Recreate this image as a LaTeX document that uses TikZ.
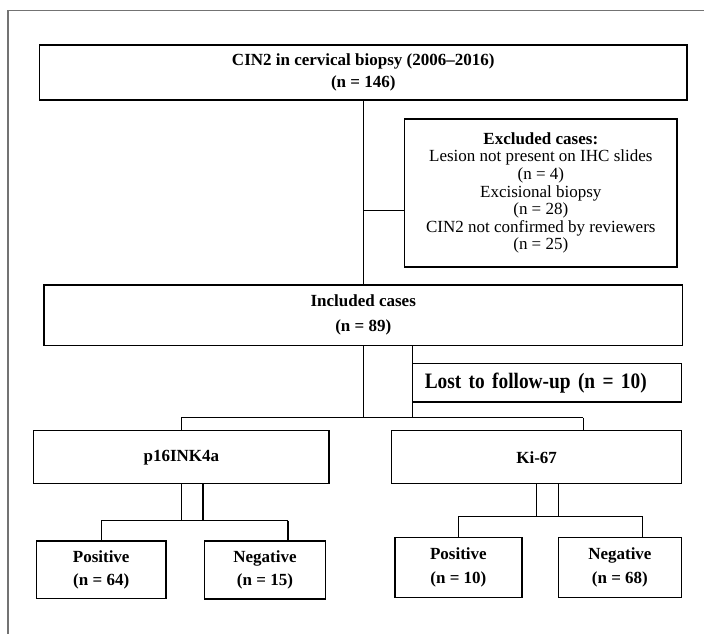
\documentclass[tikz,border=0pt]{standalone}
\usepackage{fontspec}
\setmainfont{Liberation Serif}
\newfontfamily\condfont{Liberation Serif}[FakeStretch=0.88, WordSpace=0.8]
\begin{document}
\begin{tikzpicture}[x=1pt,y=-1pt,
  box/.style={draw=black, line width=1.4pt, inner sep=0pt, align=center,
    font=\bfseries\fontsize{17}{22}\selectfont},
  conn/.style={draw=black, line width=1.4pt},
  frame/.style={draw=black!55, line width=1.6pt}]
\useasboundingbox (0,0) rectangle (704,633);
\draw[frame] (8,640) -- (8,10.5) -- (710,10.5);

\node[box, minimum width=647.5, minimum height=55] (top) at (363.25,72.5)
  {CIN2 in cervical biopsy (2006--2016)\\(n = 146)};
\node[box, minimum width=272.4, minimum height=148,
  font=\fontsize{17}{17.6}\selectfont] (excl) at (540.8,193)
  {\textbf{Excluded cases:}\\Lesion not present on IHC slides\\(n = 4)\\Excisional biopsy\\(n = 28)\\CIN2 not confirmed by reviewers\\(n = 25)};
\node[box, minimum width=638.5, minimum height=60.3,
  font=\bfseries\fontsize{17}{25}\selectfont] (inc) at (363.25,315.2)
  {Included cases\\(n = 89)};
\node[box, minimum width=269.3, minimum height=38.7, text width=244.3,
  inner xsep=12.5pt, align=left, font=\condfont\bfseries\fontsize{22}{24}\selectfont]
  (lost) at (546.95,382.65) {Lost to follow-up (n = 10)};
\node[box, minimum width=295.3, minimum height=53] (p16) at (181.35,457.2) {p16INK4a};
\node[box, minimum width=290, minimum height=53] (ki) at (536.6,457.2) {Ki-67};
\tikzset{small/.style={box, font=\bfseries\fontsize{17}{23.7}\selectfont}}
\node[small, minimum width=129.6, minimum height=57.7] (pos1) at (101.2,569.85) {Positive\\(n = 64)};
\node[small, minimum width=121.3, minimum height=58] (neg1) at (264.95,570) {Negative\\(n = 15)};
\node[small, minimum width=126.8, minimum height=60] (pos2) at (458.4,567.3) {Positive\\(n = 10)};
\node[small, minimum width=123.4, minimum height=60] (neg2) at (619.9,567.3) {Negative\\(n = 68)};

% top -> included, with branch to excluded
\draw[conn] (top.south) -- (inc.north);
\coordinate (j1) at (363.25,210.7);
\draw[conn] (j1) -- (j1 -| excl.west);

% included -> p16 / Ki-67
\coordinate (a1) at (363.25,417.7);
\coordinate (a2) at (412.3,417.7);
\coordinate (aL) at (181.35,417.7);
\coordinate (aR) at (583.3,417.7);
\draw[conn] (inc.south) -- (a1);
\draw[conn] (a2 |- inc.south) -- (a2);
\draw[conn] (aL) -- (aR);
\draw[conn] (aL) -- (p16.north);
\draw[conn] (aR) -- (aR |- ki.north);

% p16 -> positive / negative
\coordinate (b1) at (181.35,520.7);
\coordinate (b2) at (203,520.7);
\coordinate (bL) at (101.2,520.7);
\coordinate (bR) at (287.8,520.7);
\draw[conn] (p16.south) -- (b1);
\draw[conn] (b2 |- p16.south) -- (b2);
\draw[conn] (bL) -- (bR);
\draw[conn] (bL) -- (pos1.north);
\draw[conn] (bR) -- (bR |- neg1.north);

% Ki-67 -> positive / negative
\coordinate (c1) at (536.6,516.7);
\coordinate (c2) at (558.2,516.7);
\coordinate (cL) at (458.4,516.7);
\coordinate (cR) at (642.6,516.7);
\draw[conn] (ki.south) -- (c1);
\draw[conn] (c2 |- ki.south) -- (c2);
\draw[conn] (cL) -- (cR);
\draw[conn] (cL) -- (pos2.north);
\draw[conn] (cR) -- (cR |- neg2.north);
\end{tikzpicture}
\end{document}
